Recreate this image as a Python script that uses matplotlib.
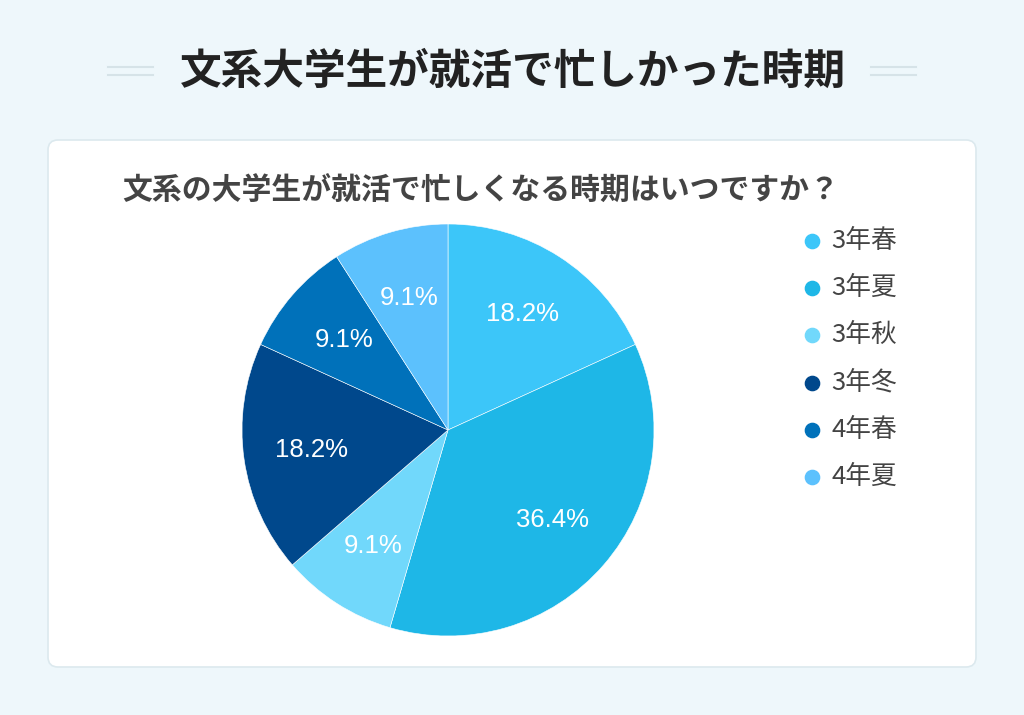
import matplotlib
matplotlib.use("Agg")
import matplotlib.pyplot as plt
from matplotlib.patches import FancyBboxPatch

plt.rcParams['font.family'] = ['Noto Sans CJK JP', 'DejaVu Sans']

title = "文系大学生が就活で忙しかった時期"
subtitle = "文系の大学生が就活で忙しくなる時期はいつですか？"
categories = ["3年春", "3年夏", "3年秋", "3年冬", "4年春", "4年夏"]
values = [18.2, 36.4, 9.1, 18.2, 9.1, 9.1]
colors = ["#3cc6f9", "#1eb7e7", "#71d8fb", "#00488c", "#0071ba", "#5cc1fd"]

W, H = 1024, 715
fig = plt.figure(figsize=(W / 100, H / 100), dpi=100)
fig.patch.set_facecolor("#eef7fb")

# background layer in pixel coords
bg = fig.add_axes([0, 0, 1, 1])
bg.set_xlim(0, W)
bg.set_ylim(H, 0)
bg.axis("off")

card = FancyBboxPatch((48, 140), 928, 527, boxstyle="round,pad=0,rounding_size=10",
                      facecolor="white", edgecolor="#dce9ee", linewidth=1.2)
bg.add_patch(card)

bg.text(513, 72, title, ha="center", va="center", fontsize=30, fontweight="bold", color="#222222")
for x0, x1 in [(108, 153), (871, 916)]:
    for y in (67, 75):
        bg.plot([x0, x1], [y, y], color="#d6e3e8", lw=1.5)

bg.text(122, 191, subtitle, ha="left", va="center", fontsize=21.5, fontweight="bold", color="#444444")

# legend
for i, (cat, col) in enumerate(zip(categories, colors)):
    y = 241 + i * 47.2
    bg.scatter([812], [y], s=105, color=col, zorder=3)
    bg.text(831, y, cat, ha="left", va="center", fontsize=18.5, color="#444444")

# pie
ax = fig.add_axes([242 / W, (H - 430 - 206) / H, 412 / W, 412 / H])
wedges, texts, autotexts = ax.pie(values, colors=colors, startangle=90, counterclock=False,
                                  autopct="%.1f%%", pctdistance=0.67,
                                  wedgeprops=dict(edgecolor="white", linewidth=0.4))
for t in autotexts:
    t.set_color("white")
    t.set_fontsize(18.5)
    t.set_fontfamily(["Liberation Sans", "DejaVu Sans"])
ax.set_xlim(-1, 1)
ax.set_ylim(-1, 1)
ax.set_aspect("equal")

fig.savefig("out.png", dpi=100, facecolor=fig.get_facecolor())
